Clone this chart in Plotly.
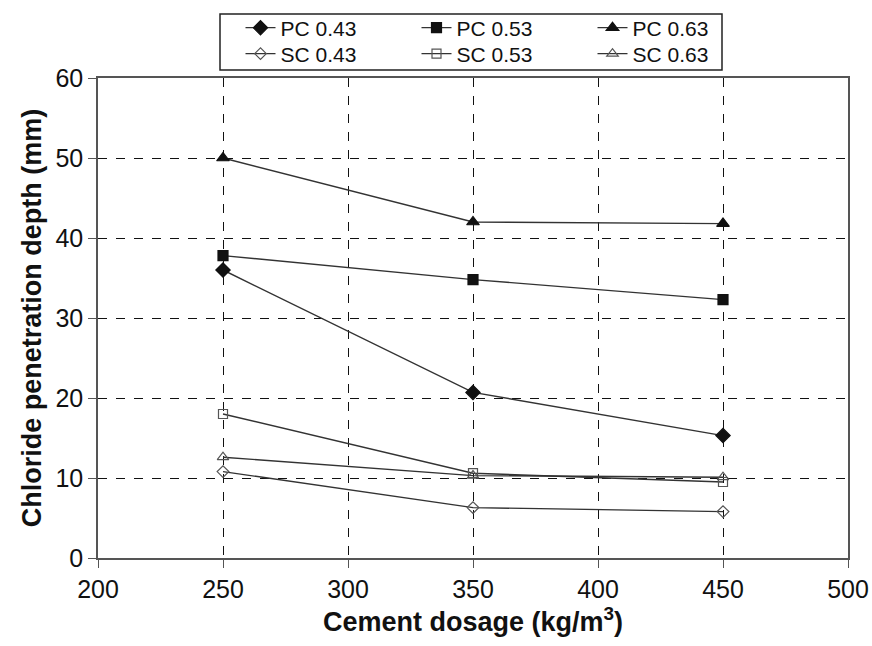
import plotly.graph_objects as go

dosage = [250, 350, 450]
pc043 = [36.0, 20.7, 15.3]
pc053 = [37.8, 34.8, 32.3]
pc063 = [50.0, 42.0, 41.8]
sc043 = [10.8, 6.3, 5.8]
sc053 = [18.0, 10.6, 9.5]
sc063 = [12.6, 10.3, 10.1]

series = [
    ("PC 0.43", pc043, "diamond", 11, "legend"),
    ("PC 0.53", pc053, "square", 10, "legend"),
    ("PC 0.63", pc063, "triangle-up", 11, "legend"),
    ("SC 0.43", sc043, "diamond-open", 9, "legend2"),
    ("SC 0.53", sc053, "square-open", 9, "legend2"),
    ("SC 0.63", sc063, "triangle-up-open", 10, "legend2"),
]

fig = go.Figure()
for name, vals, sym, sz, lg in series:
    is_open = "open" in sym
    col = "#555555" if is_open else "#111111"
    fig.add_trace(go.Scatter(
        x=dosage, y=vals, name=name, mode="lines+markers",
        line=dict(color="#333333", width=1.4),
        marker=dict(symbol=sym, size=sz, color=col,
                    line=dict(color=col, width=1.2)),
        legend=lg,
    ))

font = "Liberation Sans, Arial, sans-serif"
legend_common = dict(
    orientation="h", xref="paper", yref="paper", xanchor="left", yanchor="middle",
    bgcolor="rgba(0,0,0,0)", borderwidth=0,
    font=dict(family=font, size=21, color="#111"),
    entrywidth=131, entrywidthmode="pixels", tracegroupgap=0,
)

fig.update_layout(
    width=872, height=646,
    margin=dict(l=98, r=24, t=78, b=88, autoexpand=False),
    paper_bgcolor="white", plot_bgcolor="white",
    font=dict(family=font, color="#111"),
    legend=dict(x=0.19, y=(558 - 28) / 480, **legend_common),
    legend2=dict(x=0.19, y=(558 - 54) / 480, **legend_common),
    xaxis=dict(
        range=[200, 500], dtick=50, tick0=200,
        showline=True, mirror=True, linecolor="#555", linewidth=1.5,
        ticks="outside", ticklen=8, tickcolor="#555",
        showgrid=True, gridcolor="#111", griddash="dash", gridwidth=1,
        zeroline=False,
        tickfont=dict(family=font, size=25, color="#111"),
        title=dict(text="<b>Cement dosage (kg/m<sup>3</sup>)</b>",
                   font=dict(family=font, size=27, color="#111"), standoff=6),
    ),
    yaxis=dict(
        range=[0, 60], dtick=10,
        showline=True, mirror=True, linecolor="#555", linewidth=1.5,
        ticks="outside", ticklen=8, tickcolor="#555",
        showgrid=True, gridcolor="#111", griddash="dash", gridwidth=1,
        zeroline=False,
        tickfont=dict(family=font, size=25, color="#111"),
        title=dict(text="<b>Chloride penetration depth (mm)</b>",
                   font=dict(family=font, size=27, color="#111"), standoff=6),
    ),
    shapes=[dict(type="rect", xref="paper", yref="paper",
                 x0=(220 - 98) / 750, x1=(722 - 98) / 750,
                 y0=(558 - 70) / 480, y1=(558 - 14) / 480,
                 line=dict(color="#222", width=1.5), fillcolor="rgba(0,0,0,0)")],
)

fig.write_html("out.html")
